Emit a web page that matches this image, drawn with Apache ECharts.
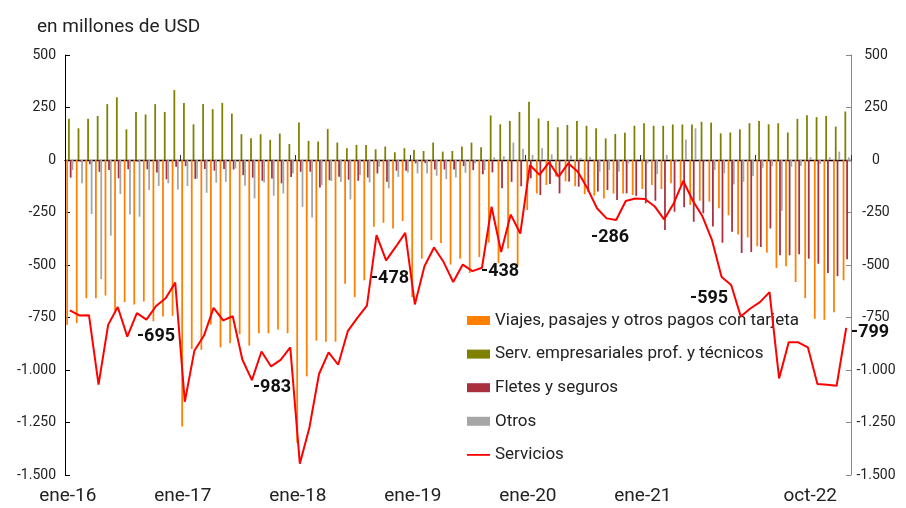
<!DOCTYPE html>
<html><head><meta charset="utf-8">
<script src="https://cdn.jsdelivr.net/npm/echarts@6/dist/echarts.min.js"></script>
<style>html,body{margin:0;padding:0;background:#fff}#c{width:906px;height:508px}</style>
</head><body><div id="c"></div>
<script>
const months = [
 'ene-16','feb-16','mar-16','abr-16','may-16','jun-16','jul-16','ago-16','sep-16','oct-16','nov-16','dic-16',
 'ene-17','feb-17','mar-17','abr-17','may-17','jun-17','jul-17','ago-17','sep-17','oct-17','nov-17','dic-17',
 'ene-18','feb-18','mar-18','abr-18','may-18','jun-18','jul-18','ago-18','sep-18','oct-18','nov-18','dic-18',
 'ene-19','feb-19','mar-19','abr-19','may-19','jun-19','jul-19','ago-19','sep-19','oct-19','nov-19','dic-19',
 'ene-20','feb-20','mar-20','abr-20','may-20','jun-20','jul-20','ago-20','sep-20','oct-20','nov-20','dic-20',
 'ene-21','feb-21','mar-21','abr-21','may-21','jun-21','jul-21','ago-21','sep-21','oct-21','nov-21','dic-21',
 'ene-22','feb-22','mar-22','abr-22','may-22','jun-22','jul-22','ago-22','sep-22','oct-22'
];
const xTickLabels = ['ene-16','ene-17','ene-18','ene-19','ene-20','ene-21','oct-22'];
const viajes = [
 -785,-777,-658,-658,-645,-717,-677,-688,-674,-768,-745,-742,
 -1269,-900,-904,-783,-892,-873,-830,-884,-825,-825,-807,-825,
 -1346,-1030,-860,-865,-865,-589,-653,-573,-318,-299,-326,-291,
 -653,-470,-382,-395,-498,-470,-538,-462,-393,-491,-422,-506,
 -238,-159,-119,-79,-101,-125,-163,-170,-183,-160,-159,-167,
 -138,-119,-138,-111,-119,-214,-194,-198,-230,-263,-355,-369,
 -411,-441,-514,-506,-581,-658,-756,-761,-725,-573
];
const servEmpresariales = [
 196,151,196,210,266,299,146,229,217,266,229,333,
 271,170,267,242,272,221,123,104,123,96,126,76,
 178,91,88,148,83,56,72,72,51,64,37,56,
 48,43,83,40,43,64,83,61,212,170,186,229,
 277,198,186,156,167,186,163,151,103,124,130,163,
 175,163,163,169,169,169,182,178,127,131,146,175,
 186,170,175,131,196,213,204,210,159,231
];
const fletes = [
 -84,-8,-20,-56,-48,-87,-44,-8,-44,-60,-92,-32,
 -29,-90,-43,-51,-43,-45,-72,-84,-99,-88,-111,-81,
 -56,-56,-131,-96,-80,-94,-99,-83,-64,-104,-51,-51,
 -16,-15,-45,-45,-45,-29,-48,-68,-59,-135,-104,-125,
 -87,-167,-114,-159,-103,-127,-151,-150,-143,-190,-159,-171,
 -206,-194,-333,-246,-225,-294,-254,-317,-394,-342,-443,-438,
 -414,-326,-454,-454,-449,-470,-494,-538,-553,-473
];
const otros = [
 -48,-111,-257,-567,-360,-162,-259,-270,-143,-124,-111,-140,
 -124,-88,-156,-108,-104,-40,-123,-183,-107,-170,-159,-64,
 -223,-274,-119,-100,-104,-188,-72,-107,-32,-135,-80,-60,
 -64,-64,-75,-91,-83,-61,-16,-48,13,18,83,53,
 24,56,27,0,21,10,16,-56,-48,-56,-16,3,
 -16,-67,24,-8,98,151,-2,-48,-63,-116,-104,-76,
 -37,-29,-242,-32,-29,13,-19,13,40,13
];
const servicios = [
 -716,-740,-739,-1070,-785,-700,-841,-729,-760,-695,-658,-584,
 -1151,-908,-836,-704,-764,-744,-950,-1048,-912,-983,-952,-892,
 -1446,-1274,-1019,-916,-975,-815,-752,-693,-358,-478,-414,-347,
 -688,-506,-417,-486,-581,-498,-529,-513,-223,-438,-260,-350,
 -24,-71,-11,-79,-16,-56,-135,-230,-278,-286,-195,-183,
 -186,-220,-283,-207,-100,-194,-268,-382,-557,-595,-745,-707,
 -677,-629,-1040,-868,-868,-892,-1067,-1070,-1075,-799
];
const seriesNames = ['Viajes, pasajes y otros pagos con tarjeta','Serv. empresariales prof. y técnicos','Fletes y seguros','Otros','Servicios'];
const labelledMonths = ['oct-16','oct-17','oct-18','oct-19','oct-20','oct-21','oct-22'];

// label placement (style only): [dx, dy] of label centre relative to the point
const labelPlacement = {
 'oct-16':[0,31],
 'oct-17':[1,21],
 'oct-18':[4,18],
 'oct-19':[-1,20],
 'oct-20':[-6,17],
 'oct-21':[-22,14],
 'oct-22':[24,5]
};

function fmt(v){
  const s = Math.abs(v).toString().replace(/\B(?=(\d{3})+(?!\d))/g,'.');
  return (v<0?'-':'')+s;
}
const FONT = 'Roboto';
const lineData = servicios.map((v,i)=>{
  const m = months[i];
  if (labelledMonths.indexOf(m) >= 0) {
    const p = labelPlacement[m];
    return {value:v, symbol:'circle', symbolSize:0.1,
      label:{show:true, position:[p[0], p[1]], align:'center', verticalAlign:'middle',
        formatter:fmt(v), fontSize:18, fontWeight:'bold', color:'#111', fontFamily:FONT}};
  }
  return v;
});

const barColors = ['#FF8000','#808000','#A8303F','#A6A6A6'];
const barData = [viajes, servEmpresariales, fletes, otros];

const chart = echarts.init(document.getElementById('c'), null, {renderer:'canvas'});
const option = {
  animation:false,
  textStyle:{fontFamily:FONT},
  title:{text:'en millones de USD', left:32, top:13,
    textStyle:{fontSize:19, fontWeight:'normal', color:'#222', fontFamily:FONT}},
  grid:{left:65, right:55, top:55, bottom:33, containLabel:false},
  legend:{
    orient:'vertical', left:462, top:307, itemWidth:23, itemHeight:9, itemGap:16.6,
    textStyle:{fontSize:17, color:'#222', fontFamily:FONT},
    data:[
      {name:seriesNames[0], icon:'rect'},
      {name:seriesNames[1], icon:'rect'},
      {name:seriesNames[2], icon:'rect'},
      {name:seriesNames[3], icon:'rect'},
      {name:seriesNames[4], icon:'path://M0 0H23V1.8H0Z'}
    ]
  },
  xAxis:[
    {type:'category', data:months, position:'bottom',
      axisLine:{show:true, onZero:true, lineStyle:{color:'#000', width:1.3}},
      axisTick:{show:true, inside:true, length:5, interval:(i)=> i>0 && i%12===0, lineStyle:{color:'#333'}},
      axisLabel:{show:false}},
    {type:'category', data:months, position:'bottom',
      axisLine:{show:false, onZero:false},
      axisTick:{show:false},
      axisLabel:{show:true, margin:12, interval:(i)=> xTickLabels.indexOf(months[i]) >= 0,
        fontSize:19, color:'#222', fontFamily:FONT,
        formatter:(v,i)=> i===months.length-1 ? '{b|'+v+'}' : '{a|'+v+'}',
        rich:{a:{fontSize:19, color:'#222', fontFamily:FONT, padding:[0,4,0,0]},
              b:{fontSize:19, color:'#222', fontFamily:FONT, padding:[0,72,0,0]}}}}
  ],
  yAxis:[
    {type:'value', min:-1500, max:500, interval:250, position:'left',
      axisLine:{show:true, lineStyle:{color:'#000'}},
      axisTick:{show:true, inside:true, length:5, lineStyle:{color:'#000'}},
      splitLine:{show:false},
      axisLabel:{formatter:fmt, fontSize:14, color:'#222', margin:9, fontFamily:FONT}},
    {type:'value', min:-1500, max:500, interval:250, position:'right',
      axisLine:{show:true, lineStyle:{color:'#888'}},
      axisTick:{show:true, inside:true, length:5, lineStyle:{color:'#888'}},
      splitLine:{show:false},
      axisLabel:{formatter:fmt, fontSize:14, color:'#222', margin:25, align:'center', fontFamily:FONT}}
  ],
  series: barData.map((d,k)=>({
    name:seriesNames[k], type:'bar', data:d, xAxisIndex:0, yAxisIndex:0,
    barGap:'0%', barCategoryGap:'26%',
    itemStyle:{color:barColors[k]}
  })).concat([{
    name:seriesNames[4], type:'line', data:lineData, xAxisIndex:0, yAxisIndex:0,
    symbol:'none', z:5, clip:false,
    lineStyle:{color:'#FF0000', width:2},
    itemStyle:{color:'#FF0000'}
  }])
};
chart.setOption(option);
</script></body></html>
